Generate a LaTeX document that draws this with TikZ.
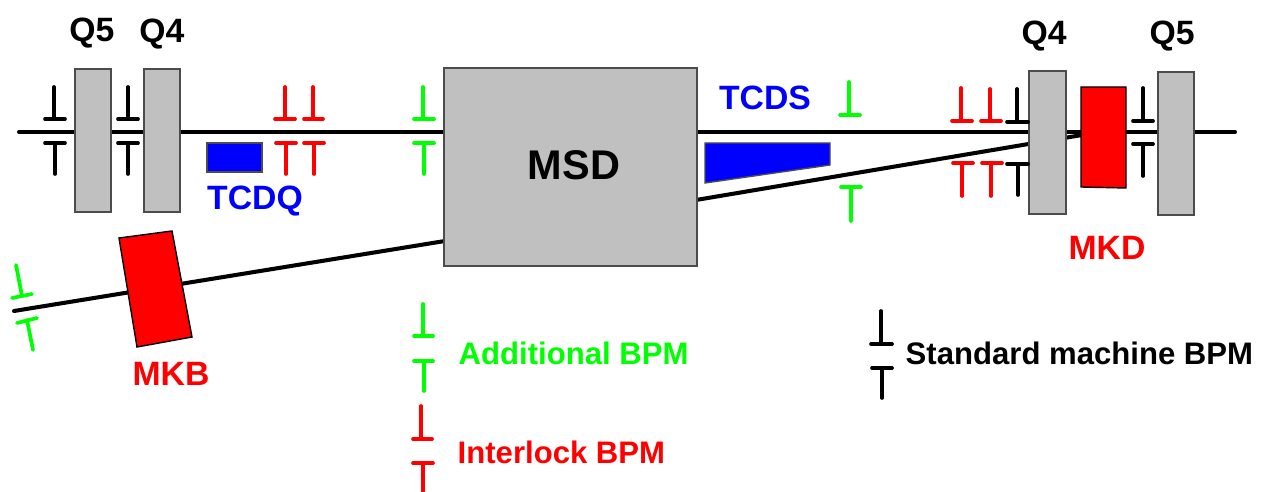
\documentclass[tikz,border=0pt]{standalone}
\usepackage{fontspec}
\setmainfont{Liberation Sans}
\definecolor{bpmgreen}{RGB}{0,255,0}
\definecolor{magnetgray}{RGB}{192,192,192}
\tikzset{
  beam/.style={line width=1.15pt,black,line cap=round},
  bpm/.style={line width=1.05pt,line cap=round},
  magnet/.style={fill=magnetgray,draw=black!70,line width=0.5pt},
  kicker/.style={fill=red,draw=black,line width=0.4pt},
  absorber/.style={fill=blue,draw=black!70,line width=0.4pt},
  lbl/.style={font=\bfseries\fontsize{9.6}{10}\selectfont,inner sep=0pt},
  legend/.style={font=\bfseries\fontsize{8.85}{10}\selectfont,inner sep=0pt,anchor=west}
}
\begin{document}
\begin{tikzpicture}
\useasboundingbox (0,0) rectangle (12.68,4.91);
% beam lines
\draw[beam] (0.19,3.59) -- (4.45,3.59);
\draw[beam] (6.96,3.59) -- (12.35,3.59);
\draw[beam] (0.14,1.80) -- (4.45,2.50);
\draw[beam] (6.96,2.91) -- (10.82,3.56);
% quadrupoles and MSD
\filldraw[magnet] (0.75,2.79) rectangle (1.11,4.22);
\filldraw[magnet] (1.44,2.79) rectangle (1.80,4.22);
\filldraw[magnet] (4.44,2.25) rectangle (6.97,4.23);
\filldraw[magnet] (10.29,2.77) rectangle (10.66,4.20);
\filldraw[magnet] (11.58,2.76) rectangle (11.94,4.19);
% kickers
\filldraw[kicker] (1.19,2.53) -- (1.72,2.60) -- (1.92,1.54) -- (1.37,1.44) -- cycle;
\filldraw[kicker] (10.81,4.04) -- (11.26,4.04) -- (11.26,3.03) -- (10.81,3.04) -- cycle;
% absorbers
\filldraw[absorber] (2.07,3.19) rectangle (2.62,3.48);
\filldraw[absorber] (7.05,3.48) -- (8.30,3.48) -- (8.30,3.26) -- (7.05,3.08) -- cycle;
% black BPMs
\draw[bpm,black] (0.54,4.04) -- (0.54,3.72) (0.45,3.72) -- (0.65,3.72); \draw[bpm,black] (0.45,3.48) -- (0.65,3.48) (0.55,3.48) -- (0.55,3.17);
\draw[bpm,black] (1.28,4.04) -- (1.28,3.72) (1.18,3.72) -- (1.38,3.72); \draw[bpm,black] (1.18,3.48) -- (1.38,3.48) (1.28,3.48) -- (1.28,3.17);
\draw[bpm,black] (10.17,4.02) -- (10.17,3.69) (10.07,3.69) -- (10.28,3.69); \draw[bpm,black] (10.07,3.27) -- (10.28,3.27) (10.18,3.27) -- (10.18,2.96);
\draw[bpm,black] (11.43,4.03) -- (11.43,3.70) (11.33,3.70) -- (11.53,3.70); \draw[bpm,black] (11.33,3.47) -- (11.53,3.47) (11.43,3.47) -- (11.43,3.15);
\draw[bpm,black] (8.81,1.80) -- (8.81,1.47) (8.71,1.47) -- (8.92,1.47); \draw[bpm,black] (8.72,1.23) -- (8.92,1.23) (8.82,1.23) -- (8.82,0.93);
% red BPMs
\draw[bpm,red] (2.85,4.04) -- (2.85,3.72) (2.75,3.72) -- (2.95,3.72); \draw[bpm,red] (2.76,3.48) -- (2.96,3.48) (2.86,3.48) -- (2.86,3.17);
\draw[bpm,red] (3.13,4.04) -- (3.13,3.72) (3.04,3.72) -- (3.23,3.72); \draw[bpm,red] (3.04,3.48) -- (3.24,3.48) (3.14,3.48) -- (3.14,3.17);
\draw[bpm,red] (9.61,4.03) -- (9.61,3.70) (9.52,3.70) -- (9.72,3.70); \draw[bpm,red] (9.53,3.28) -- (9.73,3.28) (9.62,3.28) -- (9.62,2.95);
\draw[bpm,red] (9.90,4.02) -- (9.90,3.70) (9.81,3.70) -- (10.01,3.70); \draw[bpm,red] (9.82,3.28) -- (10.02,3.28) (9.91,3.28) -- (9.91,2.95);
\draw[bpm,red] (4.21,0.85) -- (4.21,0.52) (4.13,0.52) -- (4.32,0.52); \draw[bpm,red] (4.13,0.28) -- (4.33,0.28) (4.23,0.28) -- (4.23,0.00);
% green BPMs
\draw[bpm,bpmgreen] (4.23,4.04) -- (4.23,3.72) (4.14,3.72) -- (4.34,3.72); \draw[bpm,bpmgreen] (4.14,3.48) -- (4.34,3.48) (4.24,3.48) -- (4.24,3.17);
\draw[bpm,bpmgreen] (8.49,4.09) -- (8.49,3.76) (8.40,3.76) -- (8.60,3.76); \draw[bpm,bpmgreen] (8.41,3.04) -- (8.61,3.04) (8.51,3.04) -- (8.51,2.70);
\draw[bpm,bpmgreen] (4.23,1.87) -- (4.23,1.55) (4.14,1.55) -- (4.33,1.55); \draw[bpm,bpmgreen] (4.14,1.30) -- (4.33,1.30) (4.24,1.30) -- (4.24,1.00);
\draw[bpm,bpmgreen] (0.16,2.26) -- (0.22,1.95) (0.12,1.93) -- (0.32,1.97); \draw[bpm,bpmgreen] (0.17,1.68) -- (0.37,1.73) (0.27,1.71) -- (0.33,1.41);
% labels
\node[lbl] (q5left) at (0.92,4.58) {Q5};
\node[lbl] (q4left) at (1.62,4.57) {Q4};
\node[lbl] (q4right) at (10.44,4.55) {Q4};
\node[lbl] (q5right) at (11.72,4.55) {Q5};
\node[lbl,font=\bfseries\fontsize{11.8}{12}\selectfont] (msd) at (5.74,3.26) {MSD};
\node[lbl,blue] (tcdq) at (2.55,2.90) {TCDQ};
\node[lbl,blue] (tcds) at (7.65,3.93) {TCDS};
\node[lbl,red] (mkb) at (1.71,1.17) {MKB};
\node[lbl,red] (mkd) at (11.07,2.43) {MKD};
\node[legend,bpmgreen] (additional) at (4.58,1.38) {Additional BPM};
\node[legend,red] (interlock) at (4.57,0.39) {Interlock BPM};
\node[legend,black] (standard) at (9.05,1.38) {Standard machine BPM};
\end{tikzpicture}
\end{document}
